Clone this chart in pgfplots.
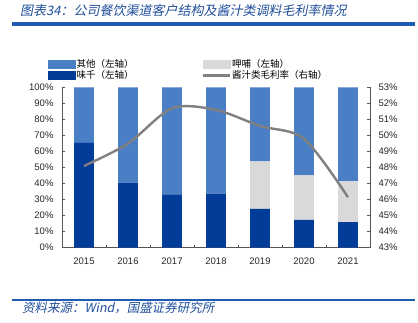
\documentclass[border=0pt]{standalone}
\usepackage{fontspec}
\setmainfont{Liberation Sans}
\newfontfamily\cjk{Noto Sans CJK SC}
\newfontfamily\cjkit[FakeSlant=0.2]{Noto Sans CJK SC}
\usepackage{pgfplots}
\pgfplotsset{compat=1.18}
\definecolor{lblue}{HTML}{4A7EC5}
\definecolor{dblue}{HTML}{003C98}
\definecolor{lgray}{HTML}{D9D9D9}
\definecolor{lnc}{HTML}{808080}
\definecolor{tblue}{HTML}{1F4E9B}
\definecolor{rblue}{HTML}{1F5BB0}
\definecolor{axc}{HTML}{555555}
\begin{document}
\begin{tikzpicture}
\path[use as bounding box] (-62pt,-75.3pt) rectangle (356pt,247.7pt);
\draw[rblue, line width=2pt] (-50pt,-52.3pt) -- (353pt,-52.3pt);
\node[anchor=west, text=tblue, font=\cjkit\fontsize{13}{15}\selectfont, inner sep=0] at (-42pt,236.7pt) {图表34：公司餐饮渠道客户结构及酱汁类调料毛利率情况};
\node[anchor=west, text=tblue, font=\cjkit\fontsize{12.5}{14}\selectfont, inner sep=0] at (-40pt,-60.3pt) {资料来源：Wind，国盛证券研究所};

\begin{axis}[at={(0pt,0pt)}, anchor=south west, scale only axis,
  width=308pt, height=160.2pt,
  ybar stacked, bar width=0.45,
  xmin=-0.5, xmax=6.5, ymin=0, ymax=100,
  xtick={0,...,6}, xticklabels={2015,2016,2017,2018,2019,2020,2021},
  minor xtick={0.5,1.5,...,5.5},
  major x tick style={draw=none},
  ytick={0,10,...,100},
  yticklabel={\pgfmathprintnumber{\tick}\%},
  axis x line*=bottom, axis y line*=left,
  axis line style={axc, line width=0.8pt},
  tick style={axc, line width=0.6pt},
  tick align=inside, major tick length=3pt, minor tick length=3pt,
  every tick label/.append style={font=\fontsize{9.5}{11}\selectfont, text=black!85},
  /pgf/number format/assume math mode=true,
  xticklabel style={yshift=-7pt},
  yticklabel style={xshift=-5pt},
  clip=false,
]
\addplot[fill=dblue, draw=none] coordinates {(0,65.5)(1,40.6)(2,32.9)(3,33.7)(4,24.3)(5,17.3)(6,15.9)};
\addplot[fill=lgray, draw=none] coordinates {(0,0)(1,0)(2,0)(3,0)(4,29.6)(5,27.9)(6,25.7)};
\addplot[fill=lblue, draw=none] coordinates {(0,34.5)(1,59.4)(2,67.1)(3,66.3)(4,46.1)(5,54.8)(6,58.4)};
\end{axis}

\begin{axis}[at={(0pt,0pt)}, anchor=south west, scale only axis,
  width=308pt, height=160.2pt,
  xmin=-0.5, xmax=6.5, ymin=43, ymax=53,
  ytick={43,44,...,53},
  yticklabel={\pgfmathprintnumber{\tick}\%},
  axis x line=none, axis y line*=right,
  axis line style={axc, line width=0.8pt},
  tick style={axc, line width=0.6pt},
  tick align=inside, major tick length=3pt,
  every tick label/.append style={font=\fontsize{9.5}{11}\selectfont, text=black!85},
  /pgf/number format/assume math mode=true,
  yticklabel style={xshift=5pt},
  clip=false,
  legend columns=2,
  legend cell align=left,
  legend style={at={(-0.045,1.18)}, anchor=north west, draw=none, fill=none,
    font=\cjk\fontsize{9.5}{10}\selectfont, inner sep=0pt, row sep=-1pt,
    nodes={inner sep=1pt}},
  /tikz/every even column/.append style={column sep=67pt},
]
\addlegendimage{legend image code/.code={\fill[lblue] (0pt,-4pt) rectangle (27pt,4pt);}}
\addlegendentry{其他（左轴）}
\addlegendimage{legend image code/.code={\fill[lgray] (0pt,-4pt) rectangle (27pt,4pt);}}
\addlegendentry{呷哺（左轴）}
\addlegendimage{legend image code/.code={\fill[dblue] (0pt,-4pt) rectangle (27pt,4pt);}}
\addlegendentry{味千（左轴）}
\addlegendimage{legend image code/.code={\draw[lnc, line width=2.4pt] (0pt,0pt) -- (27pt,0pt);}}
\addlegendentry{酱汁类毛利率（右轴）}
\addplot[smooth, lnc, line width=2.4pt, forget plot] coordinates {(0,48.1)(1,49.5)(2,51.7)(3,51.6)(4,50.6)(5,49.8)(6,46.15)};
\end{axis}
\fill[rblue] (-50pt,222pt) rectangle (353pt,225.5pt);
\end{tikzpicture}
\end{document}
